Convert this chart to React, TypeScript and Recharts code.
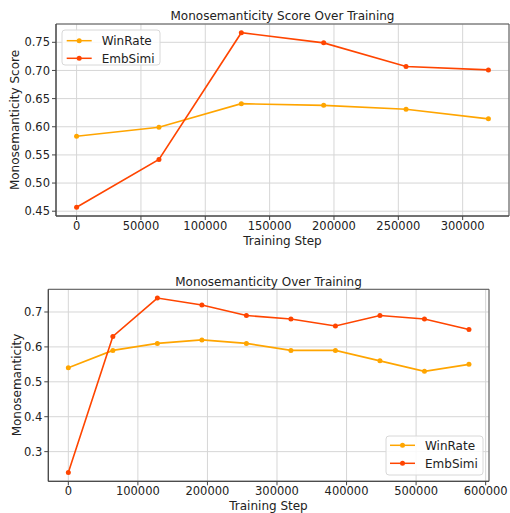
import React from "react";
import { LineChart, Line, XAxis, YAxis, CartesianGrid, ReferenceArea } from "recharts";

const steps1 = [0, 64000, 128000, 192000, 256000, 320000];
const winRate1 = [0.583, 0.599, 0.641, 0.638, 0.631, 0.614];
const embSimi1 = [0.457, 0.542, 0.767, 0.749, 0.707, 0.701];
const xTicks1 = [0, 50000, 100000, 150000, 200000, 250000, 300000];
const yTicks1 = [0.45, 0.5, 0.55, 0.6, 0.65, 0.7, 0.75];

const steps2 = [0, 64000, 128000, 192000, 256000, 320000, 384000, 448000, 512000, 576000];
const winRate2 = [0.54, 0.59, 0.61, 0.62, 0.61, 0.59, 0.59, 0.56, 0.53, 0.55];
const embSimi2 = [0.24, 0.63, 0.74, 0.72, 0.69, 0.68, 0.66, 0.69, 0.68, 0.65];
const xTicks2 = [0, 100000, 200000, 300000, 400000, 500000, 600000];
const yTicks2 = [0.3, 0.4, 0.5, 0.6, 0.7];

const seriesNames = ["WinRate", "EmbSimi"];
const colors = ["#FFA500", "#FF4500"];

const data1 = steps1.map((s, i) => ({ step: s, WinRate: winRate1[i], EmbSimi: embSimi1[i] }));
const data2 = steps2.map((s, i) => ({ step: s, WinRate: winRate2[i], EmbSimi: embSimi2[i] }));

const FONT = "'DejaVu Sans', sans-serif";
const tickStyle = { fontSize: 11.5, fill: "#222", fontFamily: FONT };

function LegendBox({ left, top, width, height, y1, y2, lineX1, lineX2, textX }: any) {
  const ys = [y1, y2];
  return (
    <svg style={{ position: "absolute", left: 0, top: 0 }} width={510} height={513} pointerEvents="none">
      <rect x={left} y={top} width={width} height={height} rx={3} fill="rgba(255,255,255,0.85)" stroke="#d8d8d8" />
      {seriesNames.map((n, i) => (
        <g key={n}>
          <line x1={lineX1} x2={lineX2} y1={ys[i]} y2={ys[i]} stroke={colors[i]} strokeWidth={1.5} />
          <circle cx={(lineX1 + lineX2) / 2} cy={ys[i]} r={2.5} fill={colors[i]} />
          <text x={textX} y={ys[i]} dy="0.36em" fontSize={12} fontFamily={FONT} fill="#222">{n}</text>
        </g>
      ))}
    </svg>
  );
}

function Chart({ data, xTicks, yTicks, xDomain, yDomain, width, height, margin, yWidth, xHeight, fmt }: any) {
  return (
    <LineChart width={width} height={height} data={data} margin={margin}>
      <CartesianGrid stroke="#d6d6d6" strokeWidth={1} />
      <XAxis
        dataKey="step"
        type="number"
        domain={xDomain}
        ticks={xTicks}
        allowDataOverflow
        height={xHeight}
        tick={tickStyle}
        tickSize={4}
        tickMargin={2}
        stroke="#444"
        tickLine={{ stroke: "#444" }}
        interval={0}
      />
      <YAxis
        type="number"
        domain={yDomain}
        ticks={yTicks}
        allowDataOverflow
        width={yWidth}
        tick={tickStyle}
        tickSize={4}
        tickMargin={2}
        stroke="#444"
        tickFormatter={fmt}
        interval={0}
      />
      <ReferenceArea x1={xDomain[0]} x2={xDomain[1]} y1={yDomain[0]} y2={yDomain[1]} fill="none" stroke="#555" strokeWidth={1} />
      {seriesNames.map((n, i) => (
        <Line
          key={n}
          dataKey={n}
          stroke={colors[i]}
          strokeWidth={1.6}
          dot={{ r: 2.5, fill: colors[i], stroke: colors[i], strokeWidth: 0 }}
          activeDot={false}
          isAnimationActive={false}
        />
      ))}
    </LineChart>
  );
}

const textDiv = (extra: any) => ({
  position: "absolute" as const,
  fontFamily: FONT,
  fontSize: 12,
  color: "#222",
  whiteSpace: "nowrap" as const,
  lineHeight: "14px",
  ...extra,
});

export default function App() {
  return (
    <div style={{ position: "absolute", left: 0, top: 0, width: 510, height: 513, background: "#fff" }}>
      <div style={{ position: "absolute", left: 0, top: 0 }}>
        <Chart
          data={data1}
          xTicks={xTicks1}
          yTicks={yTicks1}
          xDomain={[-16000, 336000]}
          yDomain={[0.4415, 0.7825]}
          width={510}
          height={250}
          margin={{ top: 24, right: 1, bottom: 0, left: 0 }}
          yWidth={56}
          xHeight={34}
          fmt={(v: number) => v.toFixed(2)}
        />
      </div>
      <div style={{ position: "absolute", left: 0, top: 260 }}>
        <Chart
          data={data2}
          xTicks={xTicks2}
          yTicks={yTicks2}
          xDomain={[-28800, 604800]}
          yDomain={[0.215, 0.765]}
          width={510}
          height={253}
          margin={{ top: 29.3, right: 21, bottom: 0, left: 0 }}
          yWidth={48.3}
          xHeight={31.7}
          fmt={(v: number) => v.toFixed(1)}
        />
      </div>
      <div style={textDiv({ left: 282.5, top: 9, transform: "translateX(-50%)" })}>Monosemanticity Score Over Training</div>
      <div style={textDiv({ left: 282.5, top: 234, transform: "translateX(-50%)" })}>Training Step</div>
      <div style={textDiv({ left: 15, top: 120, transform: "translate(-50%,-50%) rotate(-90deg)" })}>Monosemanticity Score</div>
      <div style={textDiv({ left: 268.5, top: 275, transform: "translateX(-50%)" })}>Monosemanticity Over Training</div>
      <div style={textDiv({ left: 268.5, top: 499, transform: "translateX(-50%)" })}>Training Step</div>
      <div style={textDiv({ left: 17, top: 385, transform: "translate(-50%,-50%) rotate(-90deg)" })}>Monosemanticity</div>
      <LegendBox left={62} top={30} width={98} height={35} y1={40.7} y2={58.3} lineX1={66.7} lineX2={91.7} textX={101.7} />
      <LegendBox left={386} top={436} width={97} height={39} y1={445.3} y2={463.3} lineX1={390} lineX2={415} textX={425} />
    </div>
  );
}
